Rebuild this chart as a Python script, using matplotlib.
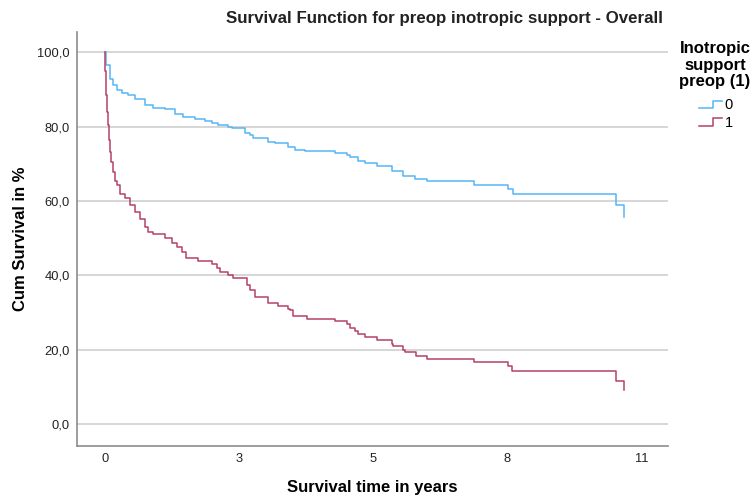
import matplotlib.pyplot as plt
from matplotlib.lines import Line2D
from matplotlib.legend_handler import HandlerBase
from matplotlib.ticker import FuncFormatter

plt.rcParams['font.family'] = ['Liberation Sans', 'DejaVu Sans']

# Kaplan-Meier step data (time in years, cumulative survival in %)
time_0 = [0.00, 0.03, 0.10, 0.16, 0.24, 0.34, 0.47, 0.61, 0.82, 0.98, 1.22, 1.43,
          1.59, 1.83, 2.04, 2.19, 2.31, 2.52, 2.60, 2.86, 2.97, 3.03, 3.33, 3.48,
          3.74, 3.89, 4.09, 4.70, 4.95, 5.01, 5.17, 5.32, 5.56, 5.87, 6.09, 6.34,
          6.58, 7.53, 8.22, 8.34, 10.43, 10.59]
surv_0 = [100.0, 96.5, 92.9, 91.1, 89.8, 88.9, 88.4, 87.5, 85.9, 85.0, 84.7, 83.5,
          82.6, 82.0, 81.5, 81.0, 80.3, 79.9, 79.5, 78.3, 77.7, 76.8, 75.9, 75.5,
          74.5, 73.8, 73.4, 72.9, 72.3, 71.7, 70.8, 70.1, 69.4, 68.1, 66.8, 66.0,
          65.3, 64.2, 63.3, 62.0, 58.8, 55.7]

time_1 = [0.00, 0.01, 0.03, 0.05, 0.07, 0.08, 0.10, 0.13, 0.17, 0.20, 0.24, 0.31,
          0.41, 0.51, 0.61, 0.72, 0.82, 0.88, 0.98, 1.23, 1.37, 1.47, 1.57, 1.66,
          1.90, 2.19, 2.29, 2.35, 2.52, 2.62, 2.90, 2.97, 3.07, 3.33, 3.54, 3.74,
          3.78, 3.84, 4.13, 4.70, 4.95, 5.01, 5.11, 5.17, 5.32, 5.56, 5.87, 5.89,
          6.09, 6.13, 6.36, 6.58, 7.53, 8.22, 8.32, 10.43, 10.59]
surv_1 = [100.0, 95.0, 88.4, 84.0, 80.4, 76.5, 73.2, 70.5, 67.8, 65.5, 64.2, 62.0,
          60.7, 58.9, 57.1, 55.3, 53.0, 51.7, 51.1, 50.2, 48.7, 47.7, 46.3, 44.8,
          43.9, 43.0, 41.9, 40.9, 40.1, 39.2, 37.4, 36.0, 34.1, 32.6, 31.9, 31.1,
          30.6, 29.1, 28.4, 27.7, 26.9, 26.0, 25.1, 24.4, 23.5, 22.6, 21.7, 21.0,
          19.9, 19.4, 18.5, 17.7, 16.7, 15.6, 14.3, 11.6, 9.3]

group_labels = ['0', '1']
group_colors = ['#55b6f7', '#b5406a']

# x ticks every 1000 days, shown as whole years
x_ticks = [k * 1000 / 365.25 for k in range(5)]
y_ticks = [0, 20, 40, 60, 80, 100]


class StepHandler(HandlerBase):
    # small step glyph for the legend entries
    def create_artists(self, legend, orig_handle, xdescent, ydescent,
                       width, height, fontsize, trans):
        x0 = -xdescent
        y0 = -ydescent
        xs = [x0, x0 + 0.6 * width, x0 + 0.6 * width, x0 + width]
        ys = [y0 + 0.15 * height, y0 + 0.15 * height, y0 + 0.85 * height, y0 + 0.85 * height]
        line = Line2D(xs, ys, color=orig_handle.get_color(),
                      lw=orig_handle.get_linewidth())
        line.set_transform(trans)
        return [line]


fig = plt.figure(figsize=(7.55, 5.0), dpi=100)
ax = fig.add_axes([0.102, 0.108, 0.783, 0.828])

lines = []
for t, s, lab, col in zip([time_0, time_1], [surv_0, surv_1], group_labels, group_colors):
    ln, = ax.step(t, s, where='post', color=col, lw=1.1, label=lab)
    lines.append(ln)

ax.set_xlim(-0.57, 11.5)
ax.set_ylim(-5.8, 105.4)
ax.set_xticks(x_ticks)
ax.set_yticks(y_ticks)
ax.xaxis.set_major_formatter(FuncFormatter(lambda v, p: '%d' % round(v)))
ax.yaxis.set_major_formatter(FuncFormatter(lambda v, p: ('%.1f' % v).replace('.', ',')))
ax.tick_params(axis='both', length=0, labelsize=9.3, colors='#222222')
ax.tick_params(axis='y', pad=5)
ax.tick_params(axis='x', pad=5)

ax.grid(axis='y', color='#d0d0d0', lw=1.2)
ax.set_axisbelow(True)
for side in ['top', 'right']:
    ax.spines[side].set_visible(False)
for side in ['left', 'bottom']:
    ax.spines[side].set_color('#8c8c8c')
    ax.spines[side].set_linewidth(1.2)

ax.set_ylabel('Cum Survival in %', fontsize=12, fontweight='bold', labelpad=7)
ax.set_xlabel('Survival time in years', fontsize=12, fontweight='bold', labelpad=11)

fig.text(0.589, 0.963, 'Survival Function for preop inotropic support - Overall',
         ha='center', va='center', fontsize=12.2, fontweight='bold', color='#222222')

# legend title drawn separately so the gap to the entries can be set
fig.text(0.947, 0.917, 'Inotropic\nsupport\npreop (1)', ha='center', va='top',
         fontsize=12, fontweight='bold', linespacing=1.12, multialignment='center')

leg = fig.legend(handles=lines, labels=group_labels, loc='upper center',
                 bbox_to_anchor=(0.948, 0.824), frameon=False,
                 prop={'size': 10.5}, handlelength=1.6, handletextpad=0.15,
                 labelspacing=0.27, borderpad=0.2,
                 handler_map={Line2D: StepHandler()})

fig.savefig('out.png', dpi=100)
